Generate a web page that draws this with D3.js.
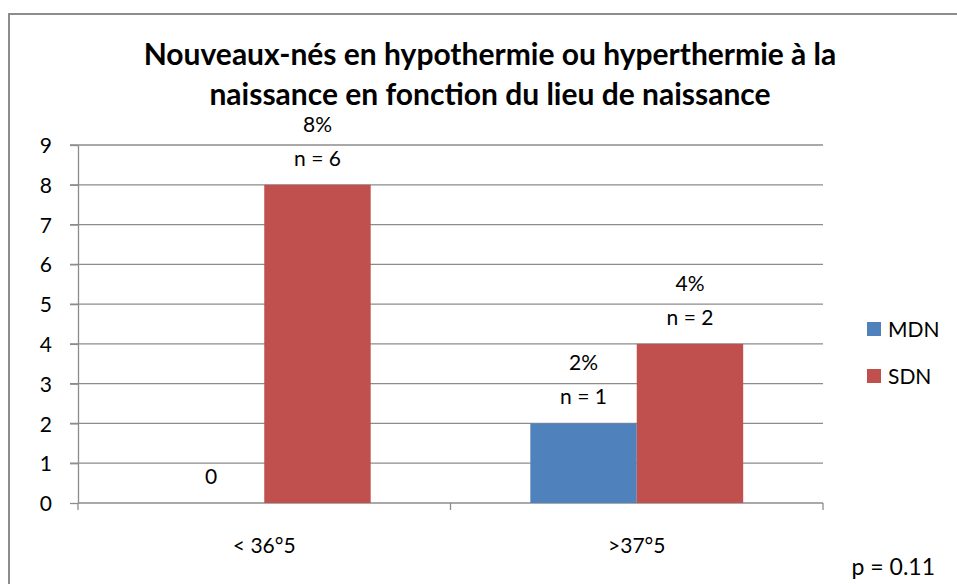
<!DOCTYPE html>
<html>
    <head>
        <meta charset="utf-8">
        <title></title>
        <style>
         body { margin: 0; background: #fff; }
         svg text { font-family: Lato, "Open Sans", sans-serif; fill: #000; }
         .grid line { stroke: #8c8c8c; stroke-width: 1.3px; }
         .axis path, .axis line { stroke: #8c8c8c; stroke-width: 1.3px; }
        </style>
    </head>
    <body>
        <svg width="957" height="584"></svg>

        <script src="https://cdn.jsdelivr.net/npm/d3@7"></script>
        <script>

         // data
         var categories = ['< 36°5', '>37°5'];
         var seriesNames = ['MDN', 'SDN'];
         var mdnValues = [0, 2];
         var sdnValues = [8, 4];
         var mdnLabels = [['0'], ['2%', 'n = 1']];
         var sdnLabels = [['8%', 'n = 6'], ['4%', 'n = 2']];
         var colors = ['#4f81bd', '#c0504d'];
         var yTicks = [0, 1, 2, 3, 4, 5, 6, 7, 8, 9];
         var titleLines = ['Nouveaux-nés en hypothermie ou hyperthermie à la',
                           'naissance en fonction du lieu de naissance'];

         var svg = d3.select('svg');

         // chart frame
         svg.append('rect')
            .attr('x', 9).attr('y', 14)
            .attr('width', 960).attr('height', 600)
            .attr('fill', 'none')
            .attr('stroke', '#8c8c8c')
            .attr('stroke-width', 2);

         var plotLeft = 78, plotRight = 823, plotTop = 145, plotBottom = 503;

         var x = d3.scaleBand()
                   .domain(categories)
                   .range([plotLeft, plotRight]);

         var xs = d3.scaleBand()
                    .domain(seriesNames)
                    .range([0, x.bandwidth()])
                    .paddingOuter(0.75);

         var y = d3.scaleLinear()
                   .domain([0, 9])
                   .range([plotBottom, plotTop]);

         // gridlines
         svg.append('g')
            .attr('class', 'grid')
            .selectAll('line')
            .data(yTicks.filter(function(d) { return d > 0; }))
            .enter()
            .append('line')
            .attr('x1', plotLeft - 8).attr('x2', plotRight)
            .attr('y1', function(d) { return y(d); })
            .attr('y2', function(d) { return y(d); });

         // y axis
         var yAxis = svg.append('g')
                        .attr('class', 'axis')
                        .attr('transform', 'translate(' + plotLeft + ',0)')
                        .call(d3.axisLeft(y).tickValues(yTicks).tickSize(8).tickSizeOuter(0).tickPadding(18));
         yAxis.selectAll('text')
              .style('font-size', '21px')
              .attr('dy', '0.36em');

         // x axis, ticks between categories
         var xAxisG = svg.append('g')
                         .attr('class', 'axis')
                         .attr('transform', 'translate(0,' + plotBottom + ')');
         xAxisG.append('line')
               .attr('x1', plotLeft).attr('x2', plotRight);
         var bounds = categories.map(function(c) { return x(c); }).concat([plotRight]);
         xAxisG.selectAll('.tk')
               .data(bounds)
               .enter()
               .append('line')
               .attr('class', 'tk')
               .attr('x1', function(d) { return d; })
               .attr('x2', function(d) { return d; })
               .attr('y1', 0).attr('y2', 7);
         xAxisG.selectAll('text')
               .data(categories)
               .enter()
               .append('text')
               .attr('x', function(d) { return x(d) + x.bandwidth() / 2; })
               .attr('y', 50)
               .attr('text-anchor', 'middle')
               .style('font-size', '21px')
               .text(function(d) { return d; });

         // bars
         var rows = [];
         categories.forEach(function(c, i) {
             rows.push({cat: c, s: 'MDN', v: mdnValues[i], lab: mdnLabels[i], col: colors[0]});
             rows.push({cat: c, s: 'SDN', v: sdnValues[i], lab: sdnLabels[i], col: colors[1]});
         });

         svg.append('g')
            .selectAll('rect')
            .data(rows)
            .enter()
            .append('rect')
            .attr('x', function(d) { return x(d.cat) + xs(d.s); })
            .attr('width', xs.bandwidth())
            .attr('y', function(d) { return y(d.v); })
            .attr('height', function(d) { return y(0) - y(d.v); })
            .attr('fill', function(d) { return d.col; });

         // data labels
         var lab = svg.append('g')
                      .selectAll('text')
                      .data(rows)
                      .enter()
                      .append('text')
                      .attr('text-anchor', 'middle')
                      .style('font-size', '21px')
                      .attr('transform', function(d) {
                          var cx = x(d.cat) + xs(d.s) + xs.bandwidth() / 2;
                          var by = y(d.v) - 19 - (d.lab.length - 1) * 34;
                          return 'translate(' + cx + ',' + by + ')';
                      });
         lab.selectAll('tspan')
            .data(function(d) { return d.lab; })
            .enter()
            .append('tspan')
            .attr('x', 0)
            .attr('y', function(d, i) { return i * 34; })
            .text(function(d) { return d; });

         // legend
         var legend = svg.append('g')
                         .selectAll('g')
                         .data(seriesNames)
                         .enter()
                         .append('g')
                         .attr('transform', function(d, i) { return 'translate(867,' + (322 + i * 47) + ')'; });
         legend.append('rect')
               .attr('width', 14).attr('height', 14)
               .attr('fill', function(d, i) { return colors[i]; });
         legend.append('text')
               .attr('x', 21).attr('y', 15)
               .style('font-size', '21px')
               .text(function(d) { return d; });

         // title
         svg.append('text')
            .attr('text-anchor', 'middle')
            .style('font-size', '30px')
            .style('font-weight', 'bold')
            .selectAll('tspan')
            .data(titleLines)
            .enter()
            .append('tspan')
            .attr('x', 490)
            .attr('y', function(d, i) { return 65 + i * 40; })
            .text(function(d) { return d; });

         // p-value note
         svg.append('text')
            .attr('x', 935).attr('y', 575)
            .attr('text-anchor', 'end')
            .style('font-size', '23px')
            .text('p = 0.11');
        </script>
    </body>
</html>
